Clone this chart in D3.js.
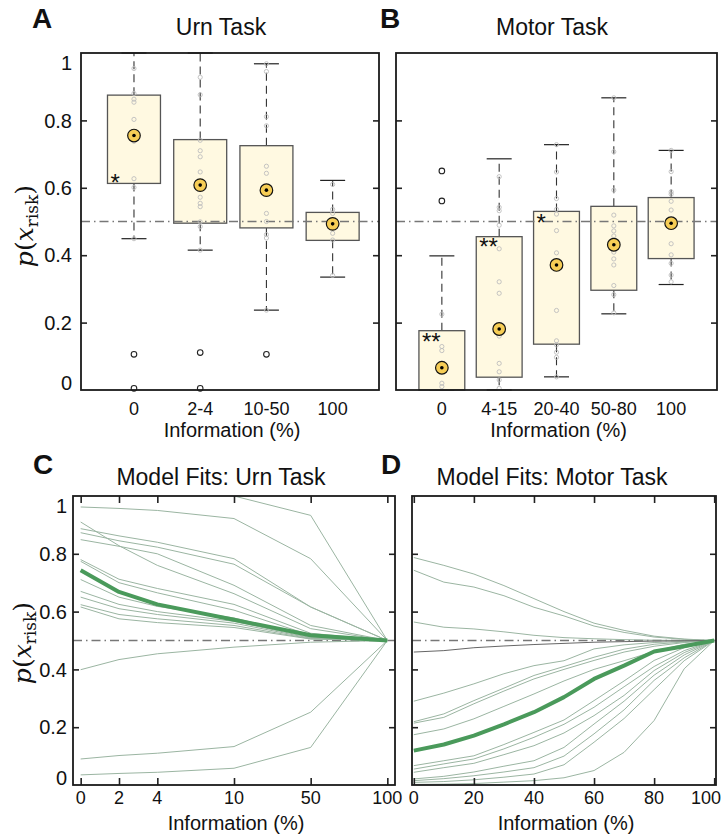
<!DOCTYPE html>
<html><head><meta charset="utf-8">
<script src="https://cdn.jsdelivr.net/npm/d3@7/dist/d3.min.js"></script>
<style>body{margin:0;background:#fff}</style>
</head><body>
<svg id="chart" width="724" height="839" xmlns="http://www.w3.org/2000/svg"></svg>
<script>
// ---------------- DATA ----------------
const yTickValues = [0, 0.2, 0.4, 0.6, 0.8, 1];
const yTickLabels = ["0", "0.2", "0.4", "0.6", "0.8", "1"];
const chance = 0.5;

// Panel A: Urn task box plots
const urnCats = ["0", "2-4", "10-50", "100"];
const urnQ1 = [0.613, 0.495, 0.481, 0.444];
const urnMed = [0.755, 0.608, 0.593, 0.493];
const urnQ3 = [0.875, 0.743, 0.725, 0.527];
const urnLo = [0.449, 0.415, 0.237, 0.335];
const urnHi = [1.0, 1.0, 0.968, 0.622];
const urnOutliers = [[0.106, 0.005], [0.111, 0.005], [0.106], []];
const urnPoints = [
  [0.954, 0.880, 0.863, 0.854, 0.803, 0.738, 0.627, 0.601, 0.449],
  [0.928, 0.876, 0.741, 0.710, 0.692, 0.647, 0.605, 0.572, 0.554, 0.544, 0.499, 0.485, 0.415],
  [0.968, 0.945, 0.811, 0.784, 0.664, 0.643, 0.524, 0.500, 0.461, 0.451, 0.237],
  [0.610, 0.536, 0.524, 0.493, 0.465, 0.445, 0.340]
];
const urnStars = ["*", "", "", ""];
const urnStarY = [0.629, null, null, null];

// Panel B: Motor task box plots
const motorCats = ["0", "4-15", "20-40", "50-80", "100"];
const motorQ1 = [0.0, 0.038, 0.136, 0.296, 0.390];
const motorMed = [0.066, 0.181, 0.371, 0.431, 0.495];
const motorQ3 = [0.176, 0.455, 0.530, 0.545, 0.571];
const motorLo = [0.0, 0.0, 0.039, 0.226, 0.313];
const motorHi = [0.398, 0.686, 0.728, 0.867, 0.711];
const motorOutliers = [[0.650, 0.561], [], [], [], []];
const motorPoints = [
  [0.225, 0.129, 0.117, 0.020, 0.010],
  [0.633, 0.542, 0.532, 0.489, 0.419, 0.321, 0.287, 0.160, 0.079, 0.054, 0.030, 0.005],
  [0.728, 0.647, 0.568, 0.536, 0.522, 0.473, 0.407, 0.236, 0.146, 0.134, 0.112, 0.097, 0.039],
  [0.867, 0.707, 0.593, 0.519, 0.487, 0.472, 0.457, 0.409, 0.389, 0.371, 0.310, 0.283, 0.229],
  [0.711, 0.648, 0.588, 0.581, 0.560, 0.534, 0.434, 0.401, 0.376, 0.341, 0.321]
];
const motorStars = ["**", "**", "*", "", ""];
const motorStarY = [0.157, 0.439, 0.510, null, null];

// Panel C: Model fits, urn task (x = information levels, plotted at ordinal positions)
const urnInfo = [0, 2, 4, 10, 50, 100];
const urnInfoPos = [0, 1, 2, 4, 6, 8];
const urnFits = [
  [1.040, 1.030, 1.020, 1.000, 0.933, 0.5],
  [0.962, 0.957, 0.950, 0.922, 0.783, 0.5],
  [0.910, 0.828, 0.760, 0.662, 0.541, 0.5],
  [0.887, 0.862, 0.840, 0.783, 0.616, 0.5],
  [0.873, 0.845, 0.823, 0.764, 0.616, 0.5],
  [0.849, 0.826, 0.800, 0.691, 0.552, 0.5],
  [0.780, 0.712, 0.680, 0.625, 0.525, 0.5],
  [0.774, 0.700, 0.665, 0.605, 0.518, 0.5],
  [0.711, 0.650, 0.618, 0.578, 0.512, 0.5],
  [0.670, 0.625, 0.600, 0.566, 0.510, 0.5],
  [0.650, 0.610, 0.590, 0.560, 0.508, 0.5],
  [0.624, 0.590, 0.575, 0.552, 0.506, 0.5],
  [0.616, 0.575, 0.562, 0.545, 0.505, 0.5],
  [0.399, 0.434, 0.454, 0.477, 0.494, 0.5],
  [0.090, 0.102, 0.110, 0.133, 0.252, 0.5],
  [0.035, 0.040, 0.044, 0.058, 0.130, 0.5]
];
const urnFitMean = [0.743, 0.668, 0.625, 0.572, 0.518, 0.5];

// Panel D: Model fits, motor task
const motorInfo = [0, 10, 20, 30, 40, 50, 60, 70, 80, 90, 100];
const motorInfoTicks = [0, 20, 40, 60, 80, 100];
const motorFits = [
  [0.787, 0.760, 0.730, 0.690, 0.645, 0.600, 0.560, 0.535, 0.515, 0.505, 0.5],
  [0.743, 0.702, 0.685, 0.655, 0.615, 0.585, 0.550, 0.528, 0.512, 0.504, 0.5],
  [0.564, 0.546, 0.540, 0.530, 0.518, 0.510, 0.506, 0.503, 0.501, 0.500, 0.5],
  [0.290, 0.318, 0.350, 0.385, 0.413, 0.430, 0.471, 0.485, 0.493, 0.497, 0.5],
  [0.219, 0.246, 0.292, 0.335, 0.379, 0.410, 0.442, 0.470, 0.487, 0.495, 0.5],
  [0.214, 0.234, 0.281, 0.325, 0.367, 0.400, 0.431, 0.460, 0.480, 0.493, 0.5],
  [0.174, 0.194, 0.229, 0.272, 0.315, 0.360, 0.400, 0.430, 0.462, 0.487, 0.5],
  [0.067, 0.084, 0.101, 0.140, 0.182, 0.225, 0.292, 0.360, 0.431, 0.475, 0.5],
  [0.055, 0.073, 0.090, 0.125, 0.165, 0.210, 0.269, 0.340, 0.410, 0.465, 0.5],
  [0.044, 0.060, 0.075, 0.105, 0.136, 0.180, 0.240, 0.310, 0.396, 0.458, 0.5],
  [0.021, 0.030, 0.045, 0.065, 0.084, 0.130, 0.211, 0.290, 0.380, 0.450, 0.5],
  [0.015, 0.022, 0.032, 0.045, 0.060, 0.100, 0.177, 0.260, 0.362, 0.440, 0.5],
  [0.009, 0.012, 0.018, 0.027, 0.038, 0.070, 0.148, 0.230, 0.330, 0.430, 0.5],
  [0.002, 0.003, 0.005, 0.010, 0.015, 0.025, 0.050, 0.113, 0.223, 0.402, 0.5]
];
const motorFitNeutral = [0.460, 0.465, 0.475, 0.481, 0.486, 0.490, 0.494, 0.496, 0.498, 0.499, 0.5];
const motorFitMean = [0.119, 0.140, 0.171, 0.210, 0.252, 0.304, 0.367, 0.413, 0.462, 0.480, 0.5];

const titles = ["Urn Task", "Motor Task", "Model Fits: Urn Task", "Model Fits: Motor Task"];
const panelLetters = ["A", "B", "C", "D"];
const xAxisTitle = "Information (%)";

// ---------------- DRAWING ----------------
const SANS = "'Liberation Sans', Arial, Helvetica, sans-serif";
const SERIF = "'DejaVu Serif', 'Liberation Serif', serif";
const svg = d3.select("#chart");
const defs = svg.append("defs");

const frames = {
  A: {x0: 81, x1: 379, y0: 53, y1: 390},
  B: {x0: 396, x1: 717, y0: 53, y1: 390},
  C: {x0: 73, x1: 395, y0: 496, y1: 785},
  D: {x0: 412, x1: 716, y0: 496, y1: 785}
};

function yScaleFor(f) { return d3.scaleLinear().domain([0, 1]).range([f.y1, f.y0]); }

function chanceLine(g, f, y) {
  g.append("line").attr("x1", f.x0).attr("x2", f.x1)
    .attr("y1", y(chance)).attr("y2", y(chance))
    .attr("stroke", "#777").attr("stroke-width", 1.4)
    .attr("stroke-dasharray", "9,4,1.5,4");
}

function yTicksInward(g, f, y, withLabels, labelGap) {
  const inner = yTickValues.filter(v => v > 0 && v < 1);
  const left = g.append("g").attr("transform", `translate(${f.x0},0)`)
    .call(d3.axisLeft(y).tickValues(inner).tickSize(-6).tickFormat(""));
  const right = g.append("g").attr("transform", `translate(${f.x1},0)`)
    .call(d3.axisRight(y).tickValues(inner).tickSize(-6).tickFormat(""));
  [left, right].forEach(a => {
    a.select(".domain").remove();
    a.selectAll("line").attr("stroke", "#222").attr("stroke-width", 1.6);
  });
  if (withLabels) {
    yTickValues.forEach((v, i) => {
      let yy = y(v);
      if (v === 1) yy += 10;
      if (v === 0) yy -= 7;
      g.append("text").attr("x", f.x0 - labelGap).attr("y", yy)
        .attr("dy", "0.36em").attr("text-anchor", "end")
        .attr("font-family", SANS).attr("font-size", 20).attr("fill", "#111")
        .text(yTickLabels[i]);
    });
  }
}

function frameRect(g, f) {
  g.append("rect").attr("x", f.x0).attr("y", f.y0)
    .attr("width", f.x1 - f.x0).attr("height", f.y1 - f.y0)
    .attr("fill", "none").attr("stroke", "#1a1a1a").attr("stroke-width", 1.8);
}

function yLabel(g, cx, cy) {
  const t = g.append("text")
    .attr("transform", `translate(${cx},${cy}) rotate(-90)`)
    .attr("text-anchor", "middle").attr("font-family", SERIF)
    .attr("font-size", 25).attr("fill", "#111");
  t.append("tspan").attr("font-style", "italic").text("p");
  t.append("tspan").text("(");
  t.append("tspan").attr("font-style", "italic").text("x");
  t.append("tspan").attr("font-size", 17).attr("dy", 5).text("risk");
  t.append("tspan").attr("dy", -5).text(")");
}

function textAt(g, x, y, str, size, weight, anchor) {
  return g.append("text").attr("x", x).attr("y", y)
    .attr("text-anchor", anchor || "middle")
    .attr("font-family", SANS).attr("font-size", size)
    .attr("font-weight", weight || "normal").attr("fill", "#111").text(str);
}

function boxPanel(f, xDom, cats, q1, med, q3, lo, hi, outl, pts, stars, starY, withYLabels) {
  const g = svg.append("g");
  const y = yScaleFor(f);
  const x = d3.scaleLinear().domain(xDom).range([f.x0, f.x1]);
  const unit = x(2) - x(1);
  const bw = unit * 0.8;
  const capW = 25;
  const clipId = "clip" + f.x0;
  defs.append("clipPath").attr("id", clipId).append("rect")
    .attr("x", f.x0).attr("y", f.y0 - 1).attr("width", f.x1 - f.x0).attr("height", f.y1 - f.y0 + 6);
  const pg = g.append("g").attr("clip-path", `url(#${clipId})`);

  cats.forEach((c, i) => {
    const cx = x(i + 1);
    pg.append("line").attr("x1", cx).attr("x2", cx).attr("y1", y(q3[i])).attr("y2", y(hi[i]))
      .attr("stroke", "#333").attr("stroke-width", 1.1).attr("stroke-dasharray", "8,5");
    pg.append("line").attr("x1", cx).attr("x2", cx).attr("y1", y(q1[i])).attr("y2", y(lo[i]))
      .attr("stroke", "#333").attr("stroke-width", 1.1).attr("stroke-dasharray", "8,5");
    [hi[i], lo[i]].forEach(v => {
      pg.append("line").attr("x1", cx - capW / 2).attr("x2", cx + capW / 2)
        .attr("y1", y(v)).attr("y2", y(v)).attr("stroke", "#222").attr("stroke-width", 1.2);
    });
  });
  cats.forEach((c, i) => {
    const cx = x(i + 1);
    pg.append("rect").attr("x", cx - bw / 2).attr("y", y(q3[i]))
      .attr("width", bw).attr("height", y(q1[i]) - y(q3[i]))
      .attr("fill", "#fff9e1")
      .attr("stroke", "#555").attr("stroke-width", 1.3);
  });
  chanceLine(pg, f, y);
  cats.forEach((c, i) => {
    const cx = x(i + 1);
    pts[i].forEach(v => {
      pg.append("circle").attr("cx", cx).attr("cy", y(v)).attr("r", 2.1)
        .attr("fill", "none").attr("stroke", "#bdbdbd").attr("stroke-width", 0.9);
    });
    outl[i].forEach(v => {
      pg.append("circle").attr("cx", cx).attr("cy", y(v)).attr("r", 2.8)
        .attr("fill", "none").attr("stroke", "#222").attr("stroke-width", 1.1);
    });
    pg.append("circle").attr("cx", cx).attr("cy", y(med[i])).attr("r", 6.3)
      .attr("fill", "#f6cd55").attr("stroke", "#111").attr("stroke-width", 1.2);
    pg.append("circle").attr("cx", cx).attr("cy", y(med[i])).attr("r", 1.8).attr("fill", "#000");
    if (stars[i]) {
      textAt(g, cx - bw / 2 + 3, y(starY[i]) + 13, stars[i], 24, "normal", "start");
    }
    textAt(g, cx, f.y1 + 25, c, 18);
  });
  yTicksInward(g, f, y, withYLabels, 9);
  frameRect(g, f);
  textAt(g, (f.x0 + f.x1) / 2 + 2, f.y1 + 47, xAxisTitle, 20);
}

function linePanel(f, xScale, xs, lines, extraDark, mean, tickVals, tickPos, withYLabels) {
  const g = svg.append("g");
  const y = yScaleFor(f);
  const clipId = "clipL" + f.x0;
  defs.append("clipPath").attr("id", clipId).append("rect")
    .attr("x", f.x0).attr("y", f.y0).attr("width", f.x1 - f.x0).attr("height", f.y1 - f.y0);
  const pg = g.append("g").attr("clip-path", `url(#${clipId})`);
  chanceLine(pg, f, y);
  const line = d3.line().x((d, i) => xScale(xs[i])).y(d => y(d));
  lines.forEach(l => {
    pg.append("path").attr("d", line(l)).attr("fill", "none")
      .attr("stroke", "#9bb5a2").attr("stroke-width", 1);
  });
  if (extraDark) {
    pg.append("path").attr("d", line(extraDark)).attr("fill", "none")
      .attr("stroke", "#666").attr("stroke-width", 1);
  }
  pg.append("path").attr("d", line(mean)).attr("fill", "none")
    .attr("stroke", "#4a9a5b").attr("stroke-width", 4).attr("stroke-linejoin", "round");
  const bottom = g.append("g").attr("transform", `translate(0,${f.y1})`)
    .call(d3.axisBottom(xScale).tickValues(tickPos).tickSize(-7).tickFormat(""));
  const top = g.append("g").attr("transform", `translate(0,${f.y0})`)
    .call(d3.axisTop(xScale).tickValues(tickPos).tickSize(-7).tickFormat(""));
  [bottom, top].forEach(a => {
    a.select(".domain").remove();
    a.selectAll("line").attr("stroke", "#222").attr("stroke-width", 1.6);
  });
  tickPos.forEach((p, i) => {
    const t = textAt(g, xScale(p), f.y1 + 19, String(tickVals[i]), 18);
    // keep the last label inside the picture, as in the reference
    const bb = t.node().getBBox();
    if (bb.x + bb.width > 722) t.attr("x", xScale(p) - (bb.x + bb.width - 721));
  });
  yTicksInward(g, f, y, withYLabels, 6);
  frameRect(g, f);
  textAt(g, (f.x0 + f.x1) / 2 + 2, f.y1 + 45, xAxisTitle, 20);
}

// Panel A
boxPanel(frames.A, [0.2, 4.7], urnCats, urnQ1, urnMed, urnQ3, urnLo, urnHi,
  urnOutliers, urnPoints, urnStars, urnStarY, true);
// Panel B
boxPanel(frames.B, [0.2, 5.8], motorCats, motorQ1, motorMed, motorQ3, motorLo, motorHi,
  motorOutliers, motorPoints, motorStars, motorStarY, false);
// Panel C
const xC = d3.scaleLinear().domain([-0.2, 8.2]).range([frames.C.x0, frames.C.x1]);
linePanel(frames.C, xC, urnInfoPos, urnFits, null, urnFitMean, urnInfo, urnInfoPos, true);
// Panel D
const xD = d3.scaleLinear().domain([-0.6, 100.6]).range([frames.D.x0, frames.D.x1]);
linePanel(frames.D, xD, motorInfo, motorFits, motorFitNeutral, motorFitMean, motorInfoTicks, motorInfoTicks, false);

// Titles, letters, y labels
const tg = svg.append("g");
textAt(tg, 221, 35, titles[0], 23);
textAt(tg, 552, 35, titles[1], 23);
textAt(tg, 221, 485, titles[2], 23);
textAt(tg, 552, 485, titles[3], 23);
textAt(tg, 32, 28, panelLetters[0], 28, "bold", "start");
textAt(tg, 380, 28, panelLetters[1], 28, "bold", "start");
textAt(tg, 33, 474, panelLetters[2], 28, "bold", "start");
textAt(tg, 381, 474, panelLetters[3], 28, "bold", "start");
yLabel(tg, 33, 226);
yLabel(tg, 31, 643);
</script>
</body></html>
